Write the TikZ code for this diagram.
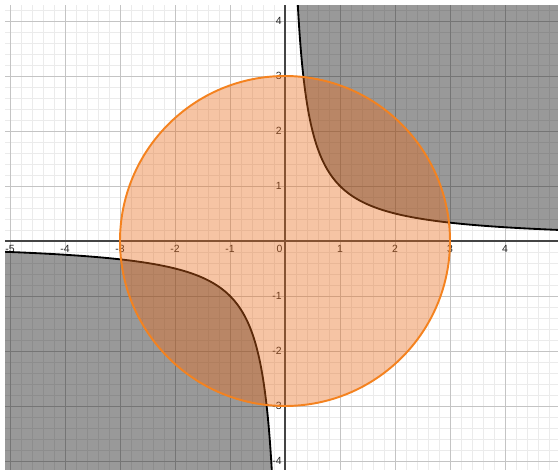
\documentclass[tikz,border=0pt]{standalone}
\usepackage{fontspec}
\setmainfont{Liberation Sans}
\definecolor{dorange}{HTML}{F4821F}
\definecolor{forange}{HTML}{E86B1B}
\definecolor{gridminor}{HTML}{EBEBEB}
\definecolor{gridmajor}{HTML}{C4C4C4}
\definecolor{axiscol}{HTML}{444444}
\definecolor{labcol}{HTML}{222222}
\begin{document}
\begin{tikzpicture}[x=1cm,y=1cm,
  xlab/.style={font=\fontsize{5.4}{6}\selectfont, text=labcol, inner sep=0pt, anchor=center},
  ylab/.style={font=\fontsize{5.4}{6}\selectfont, text=labcol, inner sep=0pt, anchor=east},
  shade/.style={fill=black, fill opacity=0.4},
  curve/.style={draw=black, line width=0.95pt},
  circ/.style={draw=dorange, line width=1pt, fill=forange, fill opacity=0.4}]
\useasboundingbox (-5.182,-4.182) rectangle (4.964,4.382);
\begin{scope}
\clip (-5.09,-4.16) rectangle (4.964,4.29);
% grid
\draw[gridminor, line width=0.45pt] (-5.2,-4.4) grid[step=0.2] (5.2,4.4);
\draw[gridmajor, line width=0.5pt] (-6,-5) grid[step=1] (6,5);
% axes
\draw[axiscol, line width=0.75pt] (-5.2,0) -- (5.2,0);
\draw[axiscol, line width=0.75pt] (0,-4.4) -- (0,4.4);
% labels
\foreach \k in {-5,-4,-3,-2,-1,1,2,3,4}
  \node[xlab] (xl\k) at (\k,-0.15) {\k};
\node[xlab] (xl0) at (-0.1,-0.14) {0};
\foreach \k in {-4,-3,-2,-1,1,2,3,4}
  \node[ylab] (yl\k) at (-0.055,\k) {\k};
% shaded regions xy>1
\fill[shade] plot[domain=0.2:5.2, samples=300, smooth] (\x,{1/\x}) -- (5.2,5) -- (0.2,5) -- cycle;
\fill[shade] plot[domain=-0.2:-5.3, samples=300, smooth] (\x,{1/\x}) -- (-5.3,-5) -- (-0.2,-5) -- cycle;
% curves
\draw[curve] plot[domain=0.2:5.2, samples=300, smooth] (\x,{1/\x});
\draw[curve] plot[domain=-0.2:-5.3, samples=300, smooth] (\x,{1/\x});
% circle
\path[circ] (0,0) circle[radius=3];
\end{scope}
\end{tikzpicture}
\end{document}
